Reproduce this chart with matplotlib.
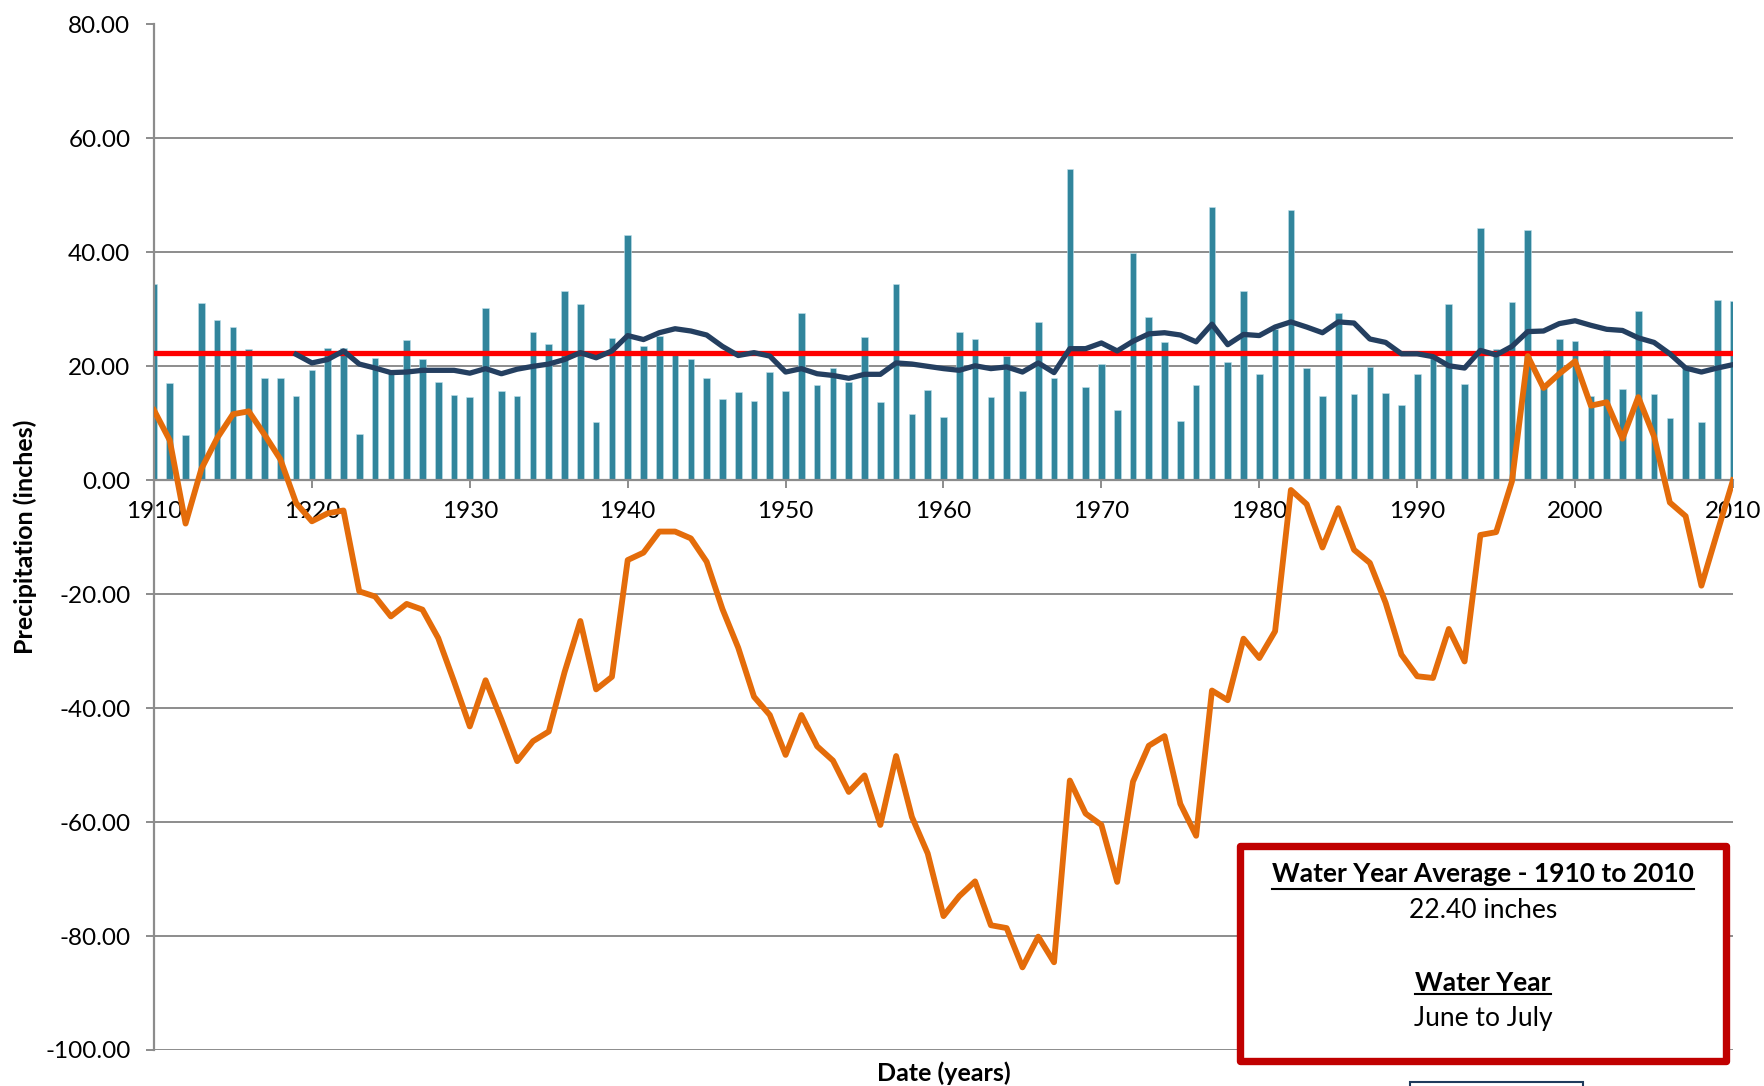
import numpy as np
import matplotlib
matplotlib.use('Agg')
import matplotlib.pyplot as plt
from matplotlib.patches import Rectangle
from matplotlib.lines import Line2D

plt.rcParams['font.family'] = ['Lato', 'DejaVu Sans']

years = np.arange(1910, 2011)

precip = [34.4, 17.1, 8.0, 31.2, 28.2, 26.9, 23.1, 18.0, 18.0, 14.8,
          19.3, 23.3, 23.2, 8.2, 21.5, 19.0, 24.6, 21.3, 17.3, 14.9,
          14.6, 30.3, 15.7, 14.8, 26.0, 24.0, 33.3, 31.0, 10.2, 24.9,
          43.0, 23.5, 25.3, 22.0, 21.3, 17.9, 14.3, 15.5, 14.0, 19.0,
          15.6, 29.3, 16.8, 19.7, 17.3, 25.1, 13.8, 34.4, 11.7, 15.9,
          11.1, 26.0, 24.8, 14.6, 21.8, 15.6, 27.7, 17.9, 54.6, 16.4,
          20.4, 12.4, 39.9, 28.7, 24.2, 10.4, 16.8, 47.9, 20.8, 33.3,
          18.7, 26.5, 47.4, 19.7, 14.8, 29.4, 15.2, 19.8, 15.4, 13.3,
          18.6, 21.5, 30.9, 16.9, 44.3, 23.1, 31.3, 44.0, 16.5, 24.8,
          24.5, 14.8, 22.9, 16.0, 29.7, 15.2, 11.0, 20.0, 10.3, 31.7, 31.5]

avg_years = np.arange(1919, 2011)
moving_avg = [22.1, 20.6, 21.2, 22.7, 20.4, 19.7, 18.9, 19.0, 19.3, 19.3,
              19.3, 18.8, 19.6, 18.7, 19.5, 20.0, 20.4, 21.2, 22.4, 21.5,
              22.7, 25.4, 24.7, 25.9, 26.6, 26.2, 25.5, 23.5, 21.9, 22.4,
              21.8, 19.0, 19.6, 18.7, 18.4, 17.9, 18.6, 18.6, 20.6, 20.4,
              20.0, 19.6, 19.3, 20.1, 19.6, 19.9, 19.0, 20.6, 18.9, 23.1,
              23.1, 24.1, 22.7, 24.4, 25.7, 25.9, 25.5, 24.3, 27.4, 23.8,
              25.6, 25.4, 26.9, 27.8, 26.9, 25.9, 27.8, 27.6, 24.8, 24.2,
              22.2, 22.2, 21.7, 20.1, 19.7, 22.8, 22.0, 23.5, 26.1, 26.2,
              27.5, 28.0, 27.2, 26.5, 26.3, 25.0, 24.2, 22.2, 19.7, 19.0,
              19.7, 20.3]

cum_departure = [12.3, 7.0, -7.6, 2.0, 7.4, 11.6, 12.1, 8.0, 3.7, -4.0,
                 -7.2, -5.8, -5.3, -19.5, -20.4, -23.9, -21.7, -22.7, -27.7, -35.3,
                 -43.2, -35.1, -42.0, -49.3, -45.8, -44.1, -33.7, -24.7, -36.7, -34.5,
                 -14.0, -12.7, -9.0, -9.0, -10.2, -14.3, -22.6, -29.4, -38.0, -41.2,
                 -48.2, -41.2, -46.7, -49.2, -54.7, -51.8, -60.5, -48.4, -59.1, -65.5,
                 -76.5, -73.0, -70.4, -78.1, -78.6, -85.5, -80.1, -84.6, -52.7, -58.5,
                 -60.5, -70.5, -52.9, -46.6, -44.9, -56.8, -62.4, -36.9, -38.6, -27.8,
                 -31.2, -26.5, -1.7, -4.2, -11.8, -4.9, -12.2, -14.5, -21.5, -30.6,
                 -34.4, -34.7, -26.1, -31.8, -9.6, -9.1, -0.2, 21.8, 16.2, 18.7,
                 20.9, 13.1, 13.7, 7.3, 14.6, 7.7, -3.9, -6.3, -18.5, -9.2,
                 0.0]

average = 22.40

W, H = 1765, 1086
fig = plt.figure(figsize=(W / 100, H / 100), dpi=100)
ax = fig.add_axes([154 / W, 1 - 1050 / H, (1733 - 154) / W, (1050 - 24.5) / H])
ax.set_axisbelow(True)

ax.bar(years, precip, width=0.42, color='#31859C', edgecolor='#BFE0EA', linewidth=0.4, zorder=2)
ax.axhline(average, color='#FF0000', lw=3.8, zorder=3)
ax.plot(avg_years, moving_avg, color='#243F60', lw=3.8, zorder=4, solid_joinstyle='round')
ax.plot(years, cum_departure, color='#E46C0A', lw=4.2, zorder=5, solid_joinstyle='round')

ax.set_xlim(1910, 2010)
ax.set_ylim(-100, 80)
ax.set_yticks(np.arange(-100, 81, 20))
ax.set_yticklabels(['%.2f' % v for v in np.arange(-100, 81, 20)])
ax.set_xticks(np.arange(1910, 2011, 10))
ax.yaxis.grid(True, color='#8C8C8C', lw=1.4)

for s in ['top', 'right']:
    ax.spines[s].set_visible(False)
ax.spines['left'].set_color('#8C8C8C')
ax.spines['left'].set_linewidth(1.6)
ax.spines['bottom'].set_position(('data', 0))
ax.spines['bottom'].set_color('#8C8C8C')
ax.spines['bottom'].set_linewidth(1.6)
ax.tick_params(axis='both', colors='#8C8C8C', labelcolor='black', labelsize=17.5,
               length=6, width=1.4, direction='out')
ax.tick_params(axis='y', pad=11)
ax.tick_params(axis='x', pad=9)

ax.set_ylabel('Precipitation (inches)', fontsize=18, fontweight='bold')
ax.yaxis.set_label_coords(-117 / (1733 - 154), 0.5)
fig.text(943.5 / W, 1 - 1073 / H, 'Date (years)', fontsize=18, fontweight='bold',
         ha='center', va='center')

# cut-off box at bottom edge
fig.add_artist(Rectangle((1410 / W, -0.02), 173 / W, 0.02 + 4 / H, transform=fig.transFigure,
                         facecolor='white', edgecolor='#1F3B5C', lw=1.5))

# info box
fig.add_artist(Rectangle((1240.3 / W, 1 - 1061.3 / H), (1725.7 - 1240.3) / W, (1061.3 - 846.3) / H,
                         transform=fig.transFigure, facecolor='white', edgecolor='#C00000',
                         lw=5.3, joinstyle='round', zorder=10))
cx = 1483 / W
t1 = fig.text(cx, 1 - 874 / H, 'Water Year Average - 1910 to 2010', fontsize=19,
              fontweight='bold', ha='center', va='center', zorder=11)
fig.text(cx, 1 - 910.7 / H, '22.40 inches', fontsize=19, ha='center', va='center', zorder=11)
t2 = fig.text(cx, 1 - 982.7 / H, 'Water Year', fontsize=19, fontweight='bold',
              ha='center', va='center', zorder=11)
fig.text(cx, 1 - 1018.3 / H, 'June to July', fontsize=19, ha='center', va='center', zorder=11)

fig.canvas.draw()
r = fig.canvas.get_renderer()
for t, uy in [(t1, 888.5), (t2, 994.0)]:
    bb = t.get_window_extent(r)
    fig.add_artist(Line2D([bb.x0 / W, bb.x1 / W], [1 - uy / H, 1 - uy / H],
                          transform=fig.transFigure, color='black', lw=1.5, zorder=11))

fig.savefig('out.png', dpi=100)
